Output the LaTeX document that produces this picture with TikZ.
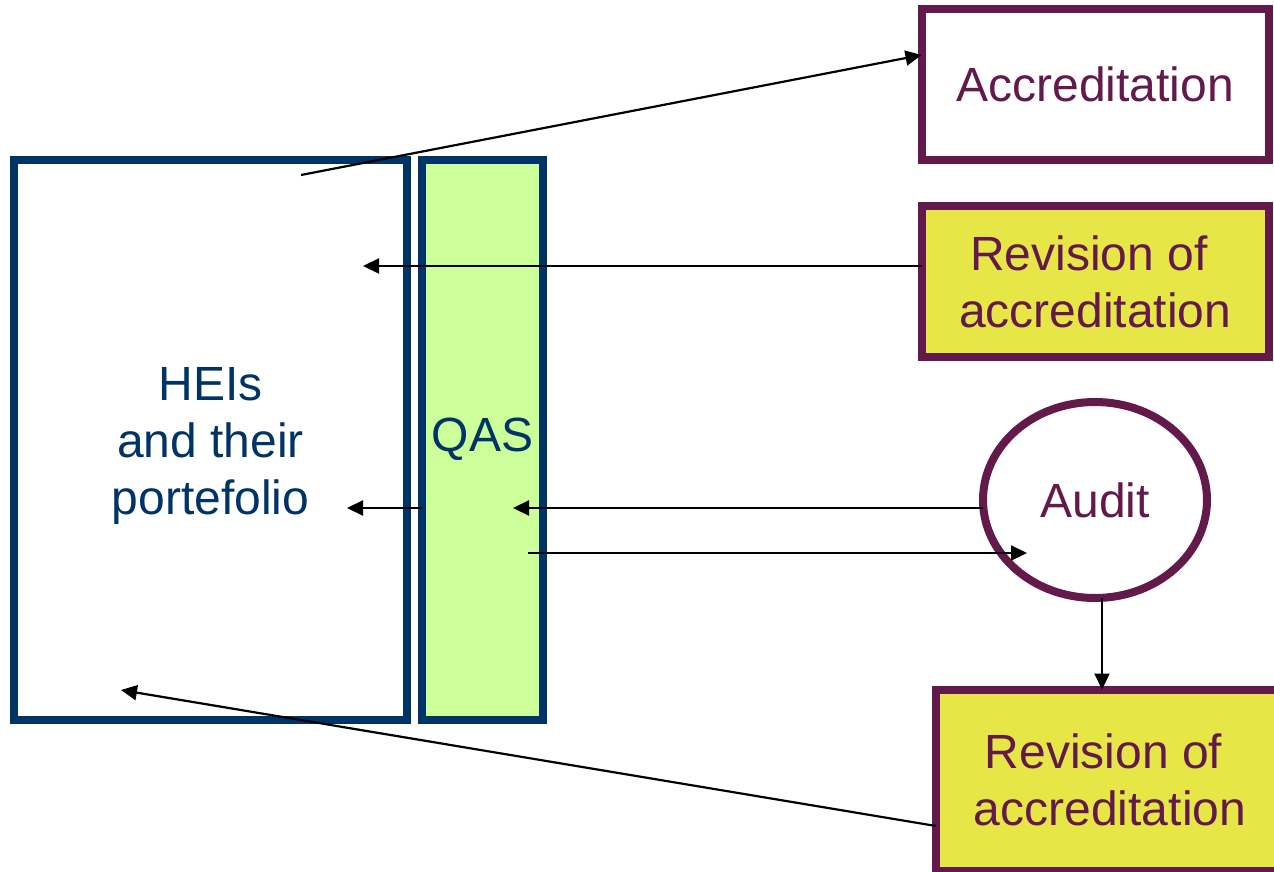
\documentclass[tikz,border=0pt]{standalone}
\usepackage{fontspec}
\setmainfont{Liberation Sans}
\usetikzlibrary{arrows.meta,shapes.geometric}
\definecolor{navy}{RGB}{0,51,102}
\definecolor{plum}{RGB}{100,25,75}
\definecolor{lgreen}{RGB}{204,255,153}
\definecolor{ylw}{RGB}{230,230,70}
\tikzset{
  bigfont/.style={font=\fontsize{48}{57}\selectfont},
  heibox/.style={draw=navy, line width=8pt, rectangle, inner sep=0pt, outer sep=0pt},
  plumbox/.style={draw=plum, line width=8pt, rectangle, inner sep=0pt, outer sep=0pt,
    text=plum, bigfont, align=center},
  auditell/.style={draw=plum, line width=8pt, ellipse, inner sep=0pt, outer sep=0pt,
    fill=white, text=plum, bigfont},
  arr/.style={draw=black, line width=2.2pt, -{Triangle[length=16pt,width=15pt]}}
}
\begin{document}
\begin{tikzpicture}[x=1pt,y=-1pt]
\useasboundingbox (0,0) rectangle (1274,872);
\clip (0,0) rectangle (1274,872);
\fill[white] (0,0) rectangle (1274,872);
% left boxes
\node[heibox, fill=white, minimum width=393pt, minimum height=559.5pt] (hei) at (210.5,439.75) {};
\node[bigfont, text=navy, align=center, inner sep=0pt] (heitext) at (210.5,446) {HEIs\\and their\\portefolio};
\node[heibox, fill=lgreen, minimum width=121pt, minimum height=559.5pt, text=navy, bigfont] (qas) at (482.5,439.75) {\raisebox{-2pt}{QAS}};
% right side
\node[plumbox, fill=white, minimum width=347.5pt, minimum height=151pt] (acc) at (1095.25,84.5) {Accreditation};
\node[plumbox, fill=ylw, minimum width=347.5pt, minimum height=151pt] (rev1) at (1095.25,281.5) {Revision of\hspace*{13pt}\\accreditation};
\node[auditell, minimum width=224pt, minimum height=196pt] (audit) at (1095,500) {Audit};
\node[plumbox, fill=ylw, minimum width=348pt, minimum height=181pt] (rev2) at (1110,780) {Revision of\hspace*{13pt}\\accreditation};
% free ends
\coordinate (p1) at (301,175);
\coordinate (p2) at (363,266);
\coordinate (p3) at (347,508);
\coordinate (p4) at (513,508);
\coordinate (p5) at (528,553);
\coordinate (p6) at (1027,553);
\coordinate (p7) at (121,690);
% connectors
\draw[arr] (p1) -- ([yshift=29.5pt]acc.west);
\draw[arr] ([yshift=15.5pt]rev1.west) -- (p2);
\draw[arr] (qas.west |- p3) -- (p3);
\draw[arr] (audit.west |- p4) -- (p4);
\draw[arr] (p5) -- (p6);
\draw[arr] ([xshift=7pt]audit.south) -- ([xshift=7pt]audit.south |- rev2.north);
\draw[arr] ([yshift=-46pt]rev2.west) -- (p7);
\end{tikzpicture}
\end{document}
